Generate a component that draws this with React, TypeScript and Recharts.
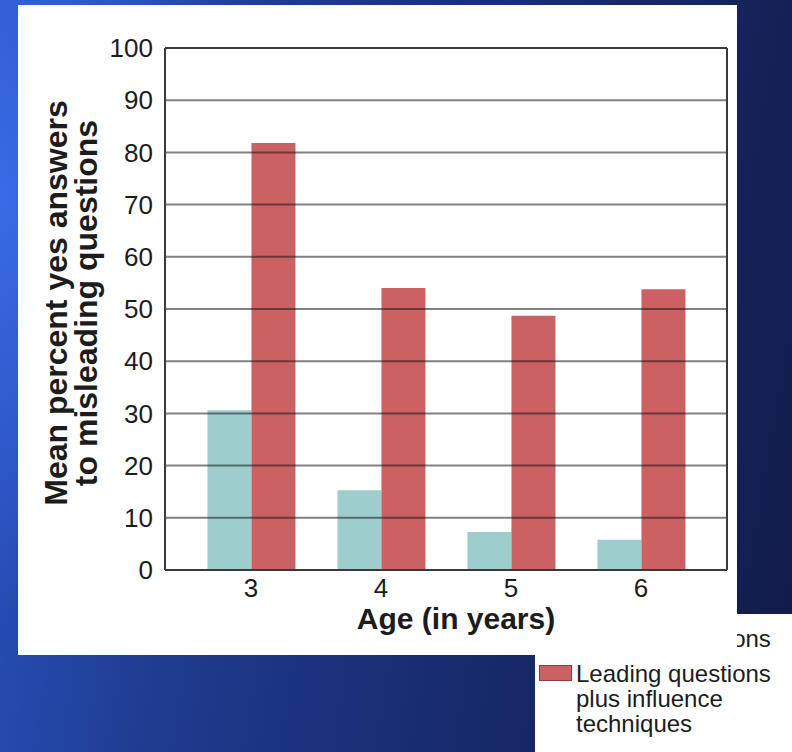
import { BarChart, Bar, XAxis, YAxis, ReferenceLine } from "recharts";

// ages on the x axis
const ages = ["3", "4", "5", "6"];

// mean percent of yes answers
const leadingOnly = [30.6, 15.3, 7.3, 5.8];
const leadingPlusInfluence = [81.8, 54.0, 48.7, 53.8];

const yTicks = [0, 10, 20, 30, 40, 50, 60, 70, 80, 90, 100];
const gridLines = [10, 20, 30, 40, 50, 60, 70, 80, 90];

const seriesNames = ["Leading questions", "Leading questions plus influence techniques"];
const seriesColors = ["#9dcdcd", "#cb6163"];

const yTitle = ["Mean percent yes answers", "to misleading questions"];
const xTitle = "Age (in years)";

const data = ages.map((age, i) => ({
  age,
  leading: leadingOnly[i],
  influence: leadingPlusInfluence[i],
}));

const FONT = "'Liberation Sans', Arial, Helvetica, sans-serif";
const INK = "#1c1c1c";
const FRAME = "#3a3a3a";

function YTitle(props: any) {
  const vb = props.viewBox || { x: 0, y: 43, width: 147, height: 522 };
  const cy = vb.y + vb.height / 2 - 6;
  return (
    <g>
      <text
        x={vb.x + 49}
        y={cy}
        transform={`rotate(-90 ${vb.x + 49} ${cy})`}
        textAnchor="middle"
        fontFamily={FONT}
        fontWeight="bold"
        fontSize={32}
        fill={INK}
      >
        {yTitle[0]}
      </text>
      <text
        x={vb.x + 79}
        y={cy}
        transform={`rotate(-90 ${vb.x + 79} ${cy})`}
        textAnchor="middle"
        fontFamily={FONT}
        fontWeight="bold"
        fontSize={32}
        fill={INK}
      >
        {yTitle[1]}
      </text>
    </g>
  );
}

function XTitle(props: any) {
  const vb = props.viewBox || { x: 147, y: 565, width: 562, height: 85 };
  return (
    <text
      x={vb.x + vb.width / 2 + 10}
      y={vb.y + 59}
      textAnchor="middle"
      fontFamily={FONT}
      fontWeight="bold"
      fontSize={30}
      fill={INK}
    >
      {xTitle}
    </text>
  );
}

export default function App() {
  return (
    <div
      style={{
        position: "fixed",
        left: 0,
        top: 0,
        width: 792,
        height: 752,
        overflow: "hidden",
        background:
          "radial-gradient(ellipse 260px 420px at 0px 200px, rgba(60,110,235,0.85), rgba(60,110,235,0) 100%), linear-gradient(100deg, #2a55c8 0%, #1f3c90 30%, #182c70 60%, #111b47 100%)",
      }}
    >
      {/* legend box, mostly hidden behind the chart panel */}
      <div
        style={{
          position: "absolute",
          left: 535,
          top: 614,
          width: 260,
          height: 140,
          background: "#fff",
          fontFamily: FONT,
          fontSize: 24,
          lineHeight: "25px",
          color: INK,
        }}
      >
        {seriesNames.map((name, i) => (
          <div
            key={name}
            style={{
              position: "absolute",
              left: 4,
              top: i === 0 ? 12 : 47,
              display: "flex",
              alignItems: "flex-start",
            }}
          >
            <div
              style={{
                width: 31,
                height: 14,
                marginTop: 4,
                marginRight: 4,
                background: seriesColors[i],
                border: "1px solid rgba(0,0,0,0.35)",
              }}
            />
            <div style={{ width: 205 }}>{name}</div>
          </div>
        ))}
      </div>

      {/* white chart panel */}
      <div
        style={{
          position: "absolute",
          left: 18,
          top: 5,
          width: 719,
          height: 650,
          background: "#fff",
        }}
      >
        <BarChart
          width={719}
          height={650}
          data={data}
          margin={{ top: 43, right: 9, bottom: 0, left: 0 }}
          barGap={0}
          barCategoryGap="16.5%"
        >
          <XAxis
            dataKey="age"
            height={85}
            padding={{ left: 21, right: 21 }}
            tickLine={false}
            tickSize={0}
            tickMargin={9}
            axisLine={{ stroke: FRAME, strokeWidth: 2 }}
            tick={{ fontSize: 26, fill: INK, fontFamily: FONT }}
            label={<XTitle />}
          />
          <YAxis
            width={147}
            domain={[0, 100]}
            ticks={yTicks}
            interval={0}
            tickLine={false}
            tickSize={0}
            tickMargin={12}
            axisLine={{ stroke: FRAME, strokeWidth: 2 }}
            tick={{ fontSize: 26, fill: INK, fontFamily: FONT }}
            label={<YTitle />}
          />
          <YAxis
            yAxisId="right"
            orientation="right"
            width={1}
            domain={[0, 100]}
            ticks={yTicks}
            tick={false}
            tickLine={false}
            axisLine={{ stroke: FRAME, strokeWidth: 2 }}
          />
          <Bar
            dataKey="leading"
            name={seriesNames[0]}
            fill={seriesColors[0]}
            isAnimationActive={false}
          />
          <Bar
            dataKey="influence"
            name={seriesNames[1]}
            fill={seriesColors[1]}
            isAnimationActive={false}
          />
          {gridLines.map((v) => (
            <ReferenceLine
              key={v}
              y={v}
              stroke="rgba(25,25,25,0.55)"
              strokeWidth={2}
            />
          ))}
          <ReferenceLine y={100} stroke={FRAME} strokeWidth={2} />
        </BarChart>
      </div>
    </div>
  );
}
